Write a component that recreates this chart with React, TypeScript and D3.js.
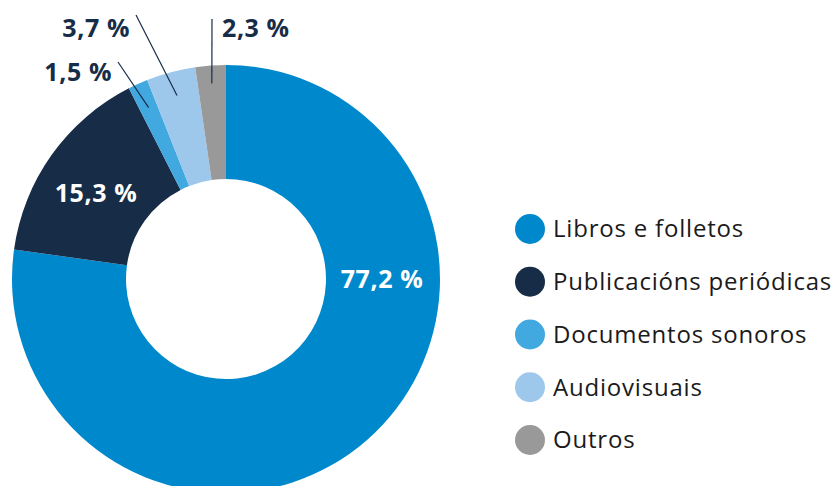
import React from 'react'
import * as d3 from 'd3'

// data
const categories = ['Libros e folletos', 'Publicacións periódicas', 'Documentos sonoros', 'Audiovisuais', 'Outros']
const values = [77.2, 15.3, 1.5, 3.7, 2.3]
const labels = ['77,2 %', '15,3 %', '1,5 %', '3,7 %', '2,3 %']
const colors = ['#0088cc', '#172d47', '#41a8e0', '#9dc8ec', '#999999']

const width = 836
const height = 486
const cx = 226
const cy = 279
const outerR = 214
const innerR = 100

const font = '"Open Sans", "Noto Sans", sans-serif'
const dark = '#172d47'

export default function App() {
  const pie = d3.pie<number>().sort(null).value(d => d)
  const arcs = pie(values)
  const arc = d3.arc<d3.PieArcDatum<number>>().innerRadius(innerR).outerRadius(outerR)
  const labelR = 156

  // inside labels: angle where the label sits (big slice label sits at 3 o'clock)
  const insideAngle: Record<number, number> = { 0: Math.PI / 2, 1: -0.985 }

  // small slices get outside labels with a leader line
  const outside: Record<number, { tx: number, ty: number, anchor: string, lx: number, ly: number, r: number }> = {
    2: { tx: 112, ty: 72, anchor: 'end', lx: 118, ly: 62, r: 188 },
    3: { tx: 130, ty: 28, anchor: 'end', lx: 136, ly: 15, r: 190 },
    4: { tx: 222, ty: 28, anchor: 'start', lx: 212, ly: 19, r: 196 },
  }

  const legendY = d3.scalePoint<string>().domain(categories).range([229, 440])

  return (
    <svg width={width} height={height} style={{ position: 'absolute', left: 0, top: 0, background: '#fff' }}>
      <g transform={`translate(${cx},${cy})`}>
        {arcs.map((a, i) => (
          <path key={i} d={arc(a) || ''} fill={colors[i]} />
        ))}
      </g>
      {arcs.map((a, i) => {
        const o = outside[i]
        if (!o) {
          const ang = insideAngle[i] ?? (a.startAngle + a.endAngle) / 2
          const x = Math.sin(ang) * labelR
          const y = -Math.cos(ang) * labelR
          return (
            <text key={i} x={cx + x} y={cy + y} dy="0.35em" textAnchor="middle" fill="#fff"
              fontFamily={font} fontWeight={700} fontSize={25} letterSpacing={0.6}>{labels[i]}</text>
          )
        }
        const mid = (a.startAngle + a.endAngle) / 2
        const ex = cx + Math.sin(mid) * o.r
        const ey = cy - Math.cos(mid) * o.r
        return (
          <g key={i}>
            <line x1={o.lx} y1={o.ly} x2={ex} y2={ey} stroke={dark} strokeWidth={1.2} />
            <text x={o.tx} y={o.ty} dy="0.35em" textAnchor={o.anchor} fill={dark}
              fontFamily={font} fontWeight={700} fontSize={25} letterSpacing={0.6}>{labels[i]}</text>
          </g>
        )
      })}
      {categories.map((c, i) => (
        <g key={c} transform={`translate(530,${legendY(c)})`}>
          <circle r={15} fill={colors[i]} />
          <text x={23} dy="0.35em" fill="#1a1a1a" fontFamily={font} fontSize={24} letterSpacing={0.8}>{c}</text>
        </g>
      ))}
    </svg>
  )
}
